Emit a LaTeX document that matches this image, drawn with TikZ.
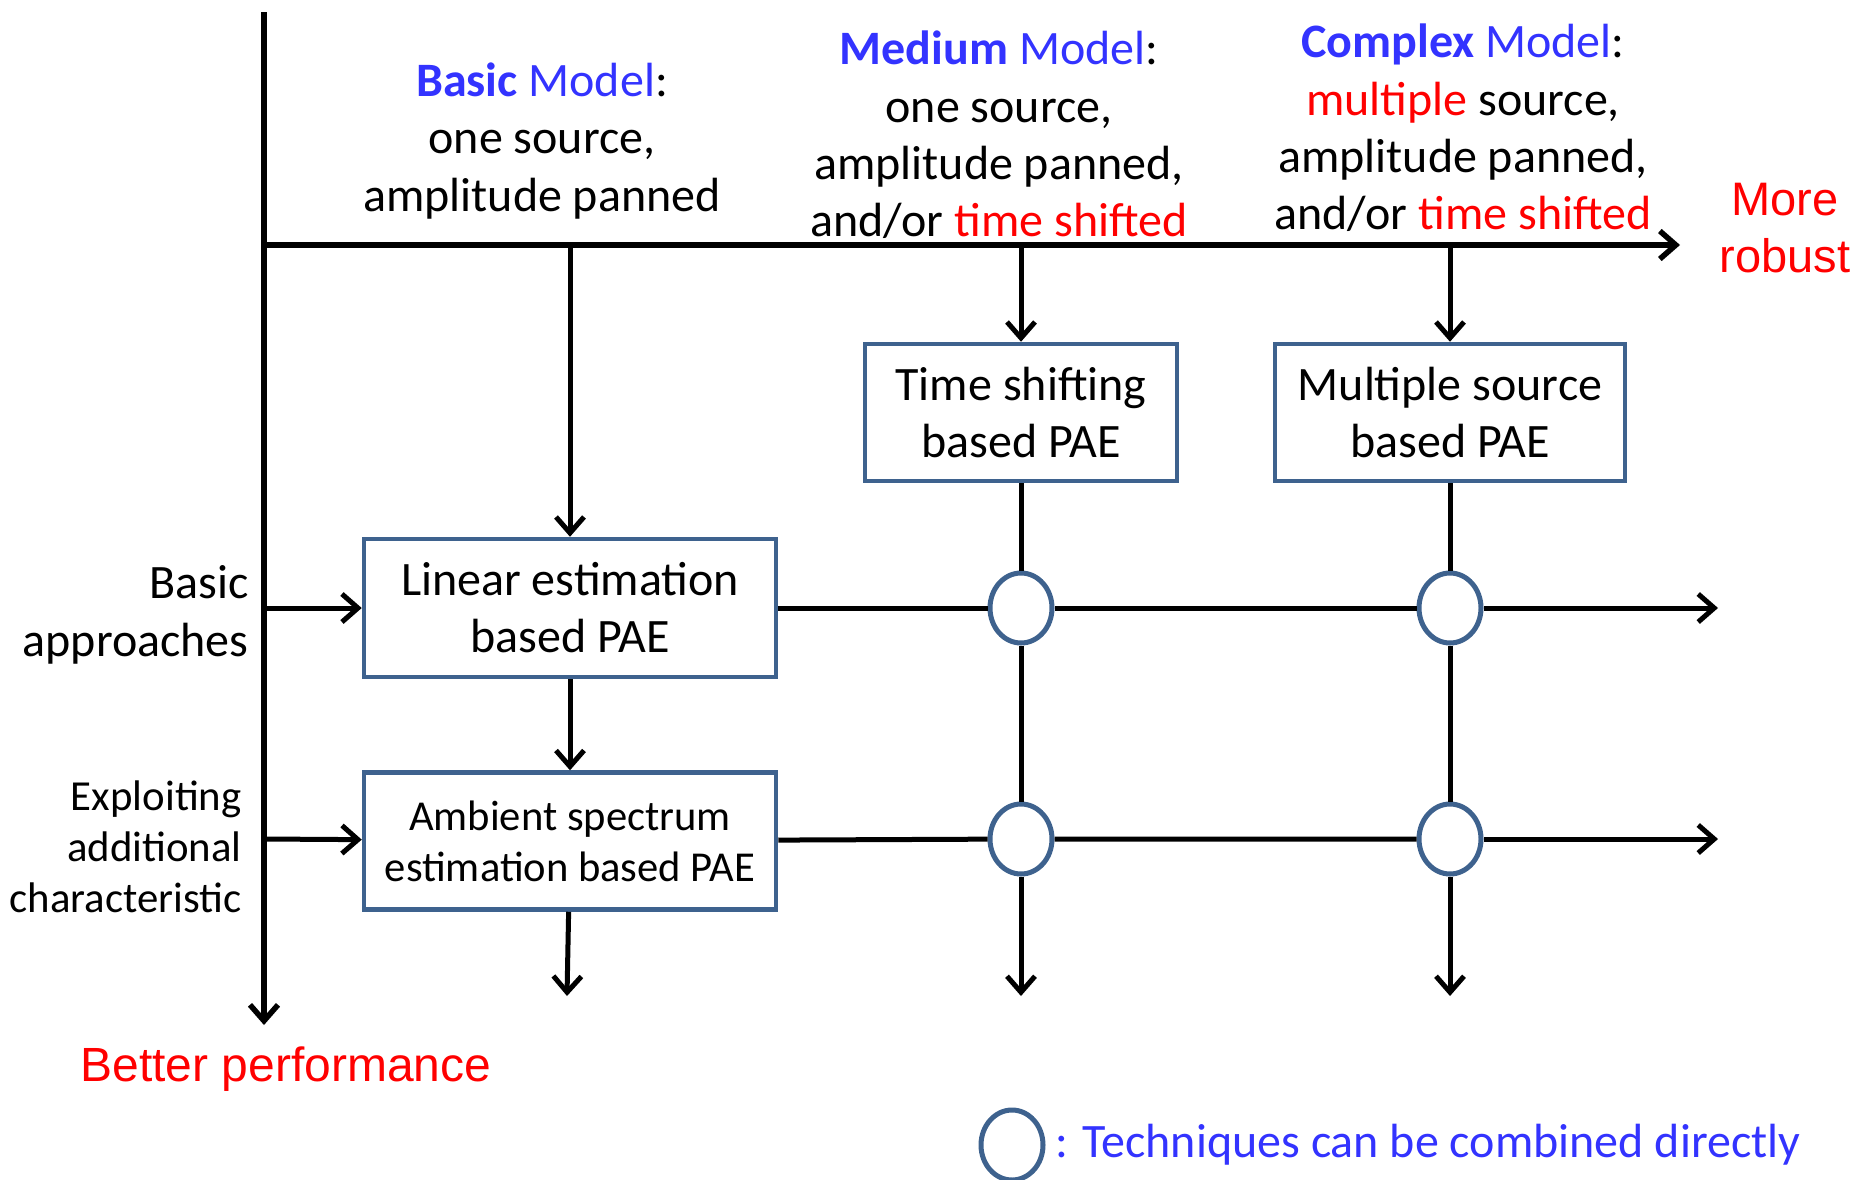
\documentclass[tikz,border=0pt]{standalone}
\usepackage{fontspec}
\setmainfont{Carlito}
\newfontfamily\arialfont{Liberation Sans}
\usepackage{tikz}
\usetikzlibrary{arrows.meta,shapes.geometric}
\tikzset{>={Straight Barb[length=8pt,width=14pt]}}
\usepackage{xcolor}
\definecolor{modelblue}{RGB}{51,51,255}
\definecolor{boxblue}{RGB}{62,98,142}
\tikzstyle{axis}=[->,line width=2.75pt]
\tikzstyle{link}=[line width=2.5pt]
\tikzstyle{pae}=[draw=boxblue,line width=2.25pt,align=center,inner sep=0pt,font=\fontsize{24}{28.5}\selectfont]
\tikzstyle{combine}=[ellipse,draw=boxblue,line width=2.5pt,fill=white,minimum width=31pt,minimum height=35pt,inner sep=0pt]
\tikzstyle{model}=[align=center,font=\fontsize{24}{28.7}\selectfont]

\begin{document}
\begin{tikzpicture}[x=0.5pt,y=-0.5pt]
  \useasboundingbox (0,0) rectangle (1858,1179);
  \coordinate (VT) at (264,12); % VERTICAL AXIS
  \coordinate (VB) at (264,1025);
  \coordinate (HL) at (264,245); % HORIZONTAL AXIS
  \coordinate (HR) at (1680,245);
  \coordinate (H1) at (570,245);
  \coordinate (H2) at (1021,245);
  \coordinate (H3) at (1450,245);
  \coordinate (R1) at (264,608); % ROWS
  \coordinate (R2) at (264,839);
  \coordinate (R1E) at (1718,608);
  \coordinate (R2E) at (1718,839);
  \coordinate (D1) at (567,996); % DOWN ENDS
  \coordinate (D2) at (1021,996);
  \coordinate (D3) at (1450,996);

  % MODELS
  \node[model] (basic) at (542,141)
    {\textcolor{modelblue}{\textbf{Basic} Model}:\\one source,\\amplitude panned};
  \node[model] (medium) at (999,135)
    {\textcolor{modelblue}{\textbf{Medium} Model}:\\one source,\\amplitude panned,\\and/or \textcolor{red}{time shifted}};
  \node[model] (complex) at (1463,128)
    {\textcolor{modelblue}{\textbf{Complex} Model}:\\\textcolor{red}{multiple} source,\\amplitude panned,\\and/or \textcolor{red}{time shifted}};
  \node[align=center,text=red,font=\arialfont\fontsize{23.5}{28.5}\selectfont] (robust) at (1785,228) {More\\robust};

  % APPROACHES
  \node[model,anchor=east,align=right,inner sep=0pt] (basicapp) at (249,615) {Basic\\approaches};
  \node[anchor=east,align=right,inner sep=0pt,font=\fontsize{21.4}{25.5}\selectfont] (exploit) at (242,847)
    {Exploiting\\additional\\characteristic};
  \node[text=red,font=\arialfont\fontsize{24}{28}\selectfont] (perf) at (286,1069) {Better performance};

  % BOXES
  \node[pae,minimum width=206pt,minimum height=69pt] (lin) at (570,608) {Linear estimation\\based PAE};
  \node[pae,minimum width=206pt,minimum height=68.5pt,font=\fontsize{21.3}{25.5}\selectfont] (amb) at (570,841)
    {Ambient spectrum\\estimation based PAE};
  \node[pae,minimum width=156pt,minimum height=68.5pt] (ts) at (1021,412.5) {Time shifting\\based PAE};
  \node[pae,minimum width=175pt,minimum height=68.5pt] (ms) at (1450,412.5) {Multiple source\\based PAE};

  % CIRCLES
  \node[combine] (C11) at (1021,608) {};
  \node[combine] (C12) at (1450,608) {};
  \node[combine] (C21) at (1021,839) {};
  \node[combine] (C22) at (1450,839) {};

  % AXES
  \draw[axis] (VT) -- (VB);
  \draw[axis] (HL) -- (HR);

  % ARROWS
  \draw[axis,line width=2.5pt] (H1) -- (lin);
  \draw[axis,line width=2.5pt] (H2) -- (ts);
  \draw[axis,line width=2.5pt] (H3) -- (ms);
  \draw[axis,line width=2.5pt] (R1) -- (lin);
  \draw[axis,line width=2.5pt] (R2) -- (amb);
  \draw[axis,line width=2.5pt] (lin) -- (amb);
  \draw[axis,line width=2.5pt] (amb) -- (D1);
  \draw[link] (lin) -- (C11) -- (C12);
  \draw[link,->] (C12) -- (R1E);
  \draw[link] (amb) -- (C21) -- (C22);
  \draw[link,->] (C22) -- (R2E);
  \draw[link] (ts) -- (C11) -- (C21);
  \draw[link,->] (C21) -- (D2);
  \draw[link] (ms) -- (C12) -- (C22);
  \draw[link,->] (C22) -- (D3);

  % KEY
  \node[combine] (key) at (1012,1145) {};
  \node[anchor=west,text=modelblue,font=\fontsize{24}{28}\selectfont] (keytext) at (1048,1145)
    {: Techniques can be combined directly};
\end{tikzpicture}
\end{document}
